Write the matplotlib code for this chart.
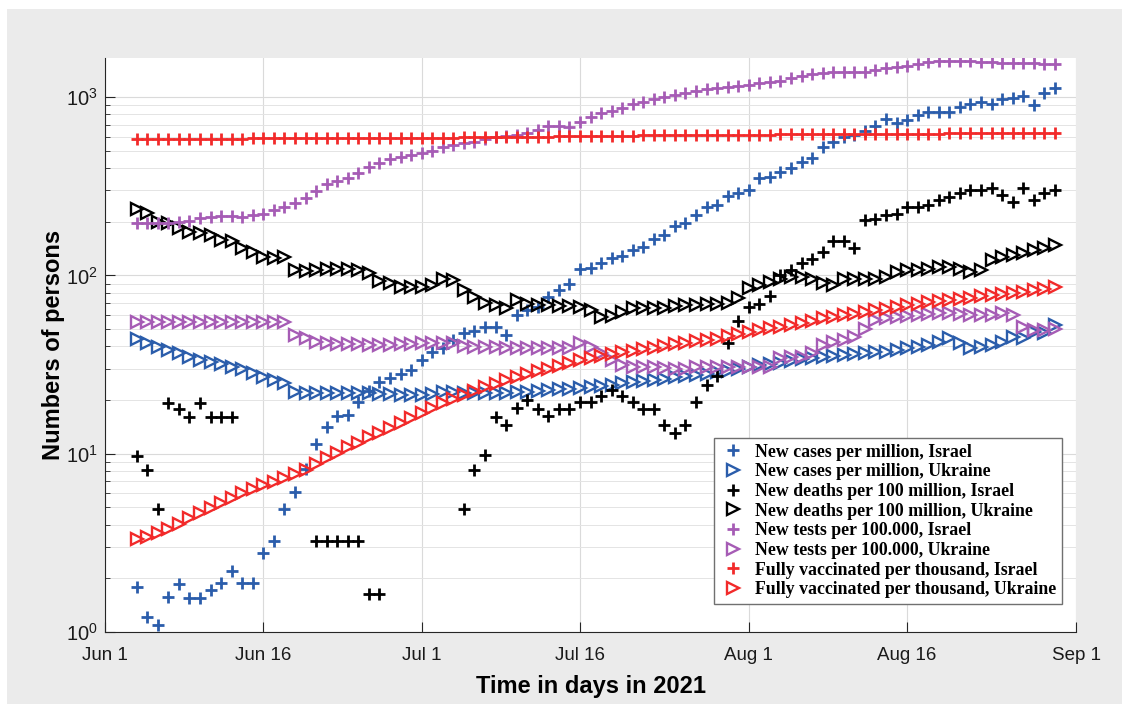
import numpy as np
import matplotlib
matplotlib.use("Agg")
import matplotlib.pyplot as plt
from matplotlib.patches import Rectangle
from matplotlib.ticker import LogLocator, NullFormatter

plt.rcParams["font.family"] = ["Liberation Sans", "DejaVu Sans"]
plt.rcParams["mathtext.fontset"] = "custom"
plt.rcParams["mathtext.rm"] = "Liberation Sans"
plt.rcParams["mathtext.it"] = "Liberation Sans"
plt.rcParams["mathtext.default"] = "regular"

# one value per day, 4 Jun .. 30 Aug 2021 (nan = no marker shown)
days = np.arange("2021-06-04", "2021-08-31", dtype="datetime64[D]")

cases_isr = [1.78, 1.21, 1.09, 1.58, 1.86, 1.55, 1.55, 1.71, 1.89, 2.2,
             1.89, 1.89, 2.76, 3.25, 4.88, 6.12, 8.17, 11.3, 14.1, 16.3,
             16.5, 19.5, 22.5, 25.3, 26.5, 28, 29.5, 33.5, 37.3, 39,
             43.4, 47.4, 49, 51.6, 51.6, 46.3, 60, 64, 66.7, 76,
             82.8, 90, 108, 110, 117, 125, 128, 138, 145, 159,
             169, 188, 196, 218, 243, 248, 279, 291, 301, 350,
             358, 382, 399, 435, 454, 527, 562, 595, 613, 648,
             689, 751, 719, 744, 794, 829, 829, 829, 884, 911,
             942, 911, 972, 993, 1014, 903, 1059, 1120]

cases_ukr = [43.8, 41.6, 39.8, 38.1, 36.6, 35.0, 33.5, 32.8, 31.8, 30.8,
             29.7, 28.2, 27.0, 25.9, 24.8, 22.3, 21.8, 21.8, 21.8, 21.8,
             21.8, 22.0, 21.8, 21.5, 21.5, 21.3, 21.3, 21.3, 21.5, 22.3,
             22.3, 21.8, 21.8, 21.8, 21.8, 21.8, 22.3, 22.3, 22.5, 22.8,
             23.0, 23.2, 23.4, 23.6, 24.0, 24.4, 24.8, 25.2, 25.6, 26.0,
             26.4, 26.8, 27.2, 27.6, 28.0, 28.6, 29.2, 29.8, 30.8, 31.4,
             31.8, 32.4, 33.2, 33.8, 34.6, 35.0, 35.4, 35.8, 36.2, 36.6,
             37.0, 37.4, 38.0, 39.0, 39.8, 40.5, 42.5, 44.4, 41.5, 39.0,
             39.5, 40.5, 42.5, 45.3, 44.5, 48.3, 47.5, 52.7]

nan = np.nan
deaths_isr = [9.7, 8.1, 4.9, 19.3, 17.7, 16.1, 19.3, 16.1, 16.1, 16.1,
              nan, nan, nan, nan, nan, nan, nan, 3.25, 3.25, 3.25,
              3.25, 3.25, 1.63, 1.63, nan, nan, nan, nan, nan, nan,
              nan, 4.9, 8.1, 9.8, 16.1, 14.5, 18, 20, 17.7, 16.3,
              17.7, 17.7, 19.6, 19.6, 21.1, 22.8, 21.1, 19.6, 17.7, 17.7,
              14.5, 13, 14.5, 19.6, 24.3, 27.3, 42, 55.7, 66.2, 69.2,
              76.6, 100, 107, 117, 123, 136, 155, 155, 142, 204,
              206, 218, 221, 243, 243, 248, 265, 276, 289, 301,
              301, 308, 282, 259, 308, 265, 291, 301]

deaths_ukr = [235, 223, 200, 196, 184, 176, 172, 169, 158, 155,
              142, 136, 127, 125, 126, 107, 106, 107, 108, 108,
              108, 107, 103, 93, 91, 86.5, 86.5, 86.5, 88, 95,
              94, 83, 76, 70, 68, 65.4, 72.8, 69, 68, 68,
              67, 67, 66.7, 64, 58.7, 59.5, 62.5, 65.4, 65.4, 65.4,
              66, 67, 68, 68.5, 69, 69, 70, 74.3, 84.6, 88,
              92, 96, 98, 98, 96, 91, 88, 96, 96, 95,
              96, 98, 105, 107, 107, 109, 112, 112, 109, 105,
              107, 122, 127, 130, 134, 139, 142, 148]

tests_isr = [196, 196, 196, 197, 198, 203, 210, 213, 214, 214,
             213, 219, 222, 233, 243, 256, 272, 297, 325, 340,
             350, 374, 404, 425, 448, 463, 473, 484, 501, 523,
             539, 550, 562, 580, 595, 605, 614, 631, 654, 689,
             689, 683, 728, 776, 811, 839, 865, 911, 942, 970,
             997, 1028, 1059, 1086, 1108, 1122, 1143, 1153, 1169, 1205,
             1222, 1238, 1274, 1313, 1347, 1371, 1387, 1387, 1387, 1387,
             1416, 1449, 1466, 1492, 1531, 1578, 1592, 1592, 1592, 1592,
             1578, 1578, 1560, 1545, 1545, 1545, 1531, 1531]

tests_ukr = [54.7, 55, 55, 55, 55, 55, 55, 55, 55, 55,
             55, 55, 55, 55, 55, 46.3, 44.4, 42.5, 41.6, 41,
             41, 41, 40.5, 40.5, 40.5, 41, 41, 41.6, 41.6, 42,
             41.6, 40, 39.8, 39.5, 39.5, 39.3, 39.3, 39, 39, 39,
             39, 39, 41.6, 39.5, 36.6, 33.5, 31.4, 30.8, 30.5, 30.5,
             30.2, 30, 30, 30.5, 30.8, 30.8, 30.8, 30.6, 30.8, 30.8,
             30.6, 34.3, 35, 35, 36.9, 40.7, 42.5, 43.4, 45.3, 49.9,
             56.2, 57.5, 58.3, 59.2, 60.1, 61, 61.4, 61.4, 61, 60.1,
             60.1, 60.1, 61.8, 60.1, 51.6, 49.4, 49.4, 49.9]

vacc_isr = [582, 582, 583, 583, 583, 584, 584, 584, 585, 585,
            585, 586, 586, 586, 587, 587, 587, 588, 588, 588,
            589, 589, 589, 590, 590, 591, 591, 592, 592, 593,
            593, 594, 594, 595, 596, 596, 597, 598, 599, 600,
            601, 602, 603, 604, 605, 606, 607, 608, 609, 610,
            610, 611, 612, 613, 613, 614, 614, 615, 615, 616,
            616, 617, 617, 618, 618, 619, 619, 620, 620, 621,
            621, 622, 622, 623, 623, 624, 624, 625, 625, 626,
            626, 627, 627, 628, 628, 629, 629, 630]

vacc_ukr = [3.31, 3.43, 3.58, 3.77, 4.03, 4.34, 4.63, 4.94, 5.27, 5.62,
            6.0, 6.31, 6.67, 6.97, 7.28, 7.69, 8.1, 8.75, 9.42, 10.1,
            10.9, 11.5, 12.4, 13.1, 13.9, 14.8, 15.9, 17.0, 18.1, 19.2,
            20.3, 21.4, 22.5, 23.6, 24.7, 25.8, 26.9, 28.0, 29.0, 30.0,
            31.0, 32.2, 33.5, 34.4, 35.3, 36.2, 37.0, 37.8, 38.6, 39.4,
            40.2, 41.0, 41.8, 42.6, 43.4, 44.2, 45.5, 46.8, 48.3, 49.3,
            50.4, 51.5, 52.6, 53.8, 55.5, 57.4, 58.5, 59.8, 61.0, 62.3,
            63.6, 65.0, 66.5, 68.2, 69.3, 70.5, 71.6, 72.8, 73.9, 75.1,
            76.3, 77.6, 78.7, 79.9, 81.2, 82.5, 84.0, 86.4]

tick_dates = ["2021-06-01", "2021-06-16", "2021-07-01", "2021-07-16",
              "2021-08-01", "2021-08-16", "2021-09-01"]
tick_labels = ["Jun 1", "Jun 16", "Jul 1", "Jul 16", "Aug 1", "Aug 16", "Sep 1"]

blue = "#2b5dab"
purple = "#a65cb5"
red = "#f22a2a"

series = [
    (cases_isr, blue, "+", "New cases per million, Israel"),
    (cases_ukr, blue, ">", "New cases per million, Ukraine"),
    (deaths_isr, "black", "+", "New deaths per 100 million, Israel"),
    (deaths_ukr, "black", ">", "New deaths per 100 million, Ukraine"),
    (tests_isr, purple, "+", "New tests per 100.000, Israel"),
    (tests_ukr, purple, ">", "New tests per 100.000, Ukraine"),
    (vacc_isr, red, "+", "Fully vaccinated per thousand, Israel"),
    (vacc_ukr, red, ">", "Fully vaccinated per thousand, Ukraine"),
]

fig = plt.figure(figsize=(11.31, 7.04), dpi=100)
fig.patch.set_facecolor("white")
fig.patches.append(Rectangle((7 / 1131, 0), 1115 / 1131, 695 / 704,
                             transform=fig.transFigure, facecolor="#ebebeb",
                             edgecolor="none", zorder=-10))

ax = fig.add_axes([105 / 1131, 72 / 704, 971 / 1131, 574 / 704])
ax.set_facecolor("white")

for values, color, marker, label in series:
    if marker == "+":
        ax.plot(days, values, linestyle="none", marker="+", markersize=8.5,
                markeredgewidth=2.0, color=color, label=label)
    else:
        ax.plot(days, values, linestyle="none", marker=">", markersize=8.5,
                markeredgewidth=1.7, markerfacecolor="none",
                markeredgecolor=color, label=label)

ax.set_yscale("log")
ax.set_ylim(1, 1656)
ax.set_xlim(np.datetime64("2021-06-01"), np.datetime64("2021-09-01"))
ax.set_xticks([np.datetime64(d) for d in tick_dates])
ax.set_xticklabels(tick_labels)

ax.yaxis.set_major_locator(LogLocator(base=10, numticks=10))
ax.yaxis.set_minor_locator(LogLocator(base=10, subs=np.arange(2, 10), numticks=10))
ax.yaxis.set_minor_formatter(NullFormatter())

ax.grid(True, which="major", color="#dadada", linewidth=0.8)
ax.grid(True, which="minor", axis="y", color="#e4e4e4", linewidth=0.7)
ax.set_axisbelow(True)

for side in ["top", "right"]:
    ax.spines[side].set_visible(False)
for side in ["left", "bottom"]:
    ax.spines[side].set_color("#262626")
    ax.spines[side].set_linewidth(0.8)

ax.tick_params(which="major", direction="in", length=7, width=0.8,
               labelsize=13.5, colors="#262626", labelcolor="#1a1a1a")
ax.tick_params(which="minor", direction="in", length=3.5, width=0.6, colors="#262626")
ax.tick_params(axis="x", pad=11)
ax.tick_params(axis="y", pad=5, labelsize=14.5)

ax.set_xlabel("Time in days in 2021", fontsize=17, fontweight="bold", labelpad=8)
ax.set_ylabel("Numbers of persons", fontsize=17, fontweight="bold", labelpad=1)

leg = ax.legend(loc="lower right", bbox_to_anchor=(0.9856, 0.0488),
                borderaxespad=0, fancybox=False, framealpha=1,
                edgecolor="#707070", labelspacing=0.15, handlelength=1.5,
                handletextpad=0.5, borderpad=0.32,
                prop={"family": "Liberation Serif", "weight": "bold", "size": 12.8})
leg.get_frame().set_linewidth(1.0)

fig.savefig("out.png", dpi=100)
